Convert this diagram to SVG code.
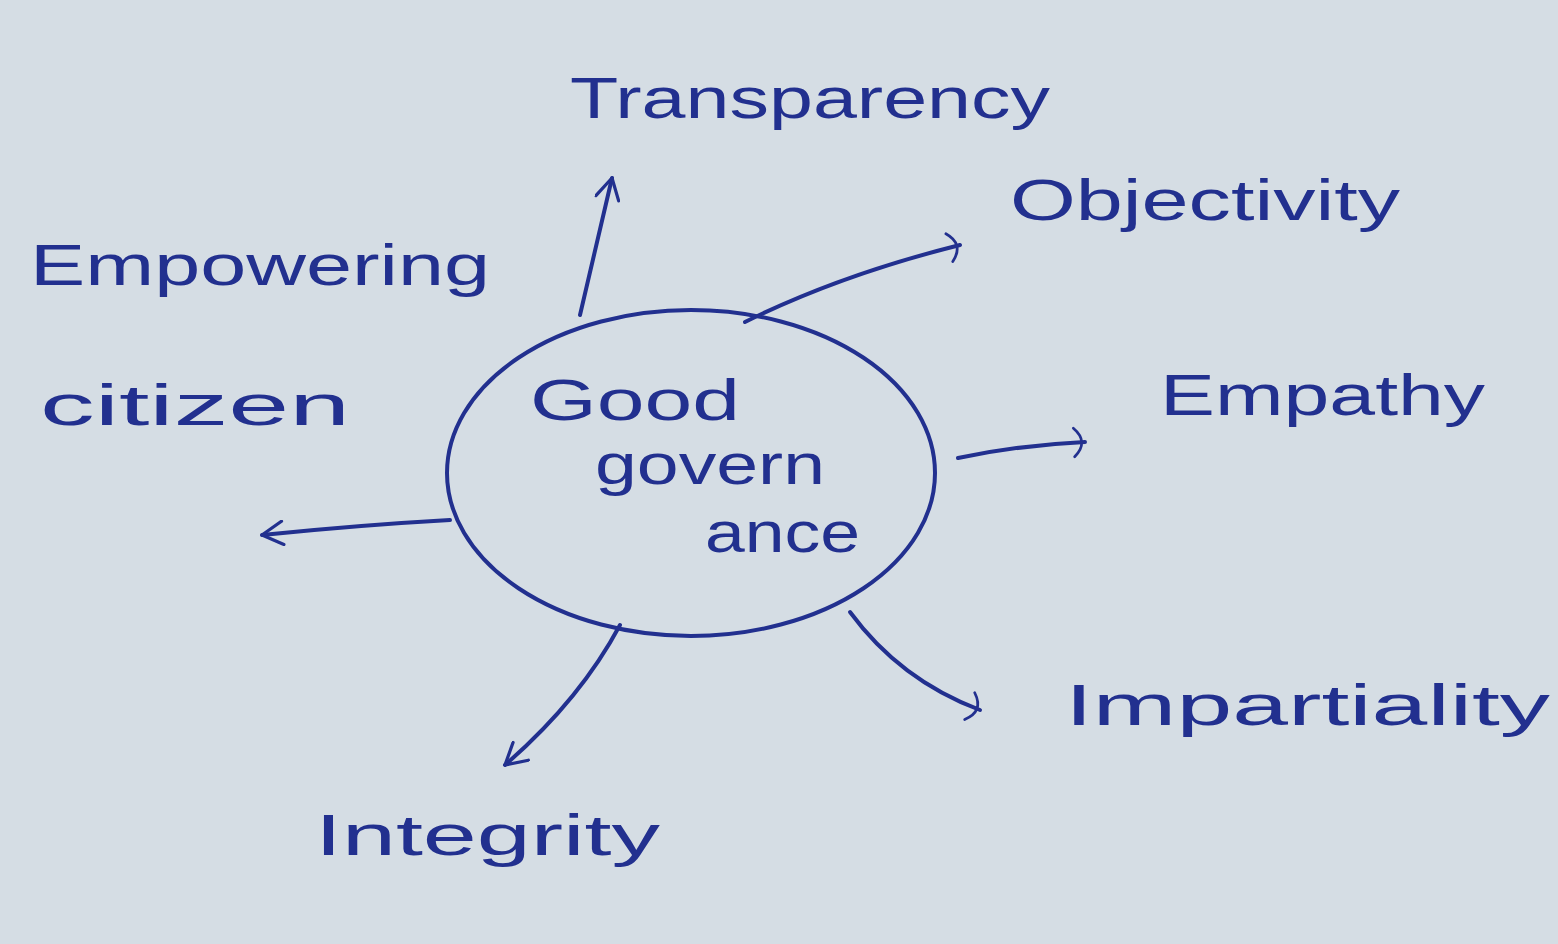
<svg xmlns="http://www.w3.org/2000/svg" width="1558" height="944" viewBox="0 0 1558 944">
<defs>
<marker id="arr" viewBox="0 0 20 20" refX="18" refY="10" markerWidth="26" markerHeight="26" markerUnits="userSpaceOnUse" orient="auto">
<path d="M2,1 L18,10 L2,19" fill="none" stroke="#22308f" stroke-width="2.5" stroke-linecap="round" stroke-linejoin="round"/>
</marker>
<marker id="cur" viewBox="0 0 20 30" refX="14" refY="15" markerWidth="22" markerHeight="34" markerUnits="userSpaceOnUse" orient="auto">
<path d="M4,2 Q18,15 4,28" fill="none" stroke="#22308f" stroke-width="2.5" stroke-linecap="round"/>
</marker>
</defs>
<style>
.ink{fill:none;stroke:#22308f;stroke-width:4;stroke-linecap:round;stroke-linejoin:round}
.lbl{font-family:"Liberation Sans","Open Sans",sans-serif;fill:#22308f;font-size:58px}
</style>
<rect width="1558" height="944" fill="#d5dde4"/>
<g id="connectors">
<path class="ink" d="M580,315 L612,178" marker-end="url(#arr)"/>
<path class="ink" d="M745,322 Q840,275 960,245" marker-end="url(#cur)"/>
<path class="ink" d="M958,458 Q1020,445 1085,442" marker-end="url(#cur)"/>
<path class="ink" d="M850,612 Q900,680 980,710" marker-end="url(#cur)"/>
<path class="ink" d="M620,625 Q580,700 505,765" marker-end="url(#arr)"/>
<path class="ink" d="M450,520 Q360,525 262,535" marker-end="url(#arr)"/>
</g>
<g id="center">
<ellipse class="ink" cx="691" cy="473" rx="244" ry="163"/>
<text class="lbl" x="530" y="420" textLength="210" lengthAdjust="spacingAndGlyphs">Good</text>
<text class="lbl" x="595" y="484" textLength="230" lengthAdjust="spacingAndGlyphs">govern</text>
<text class="lbl" x="705" y="552" font-size="42" textLength="155" lengthAdjust="spacingAndGlyphs">ance</text>
</g>
<g id="transparency"><text class="lbl" x="570" y="118" textLength="480" lengthAdjust="spacingAndGlyphs">Transparency</text></g>
<g id="objectivity"><text class="lbl" x="1010" y="220" textLength="390" lengthAdjust="spacingAndGlyphs">Objectivity</text></g>
<g id="empowering"><text class="lbl" x="30" y="285" textLength="460" lengthAdjust="spacingAndGlyphs">Empowering</text>
<text class="lbl" x="40" y="425" textLength="310" lengthAdjust="spacingAndGlyphs">citizen</text></g>
<g id="empathy"><text class="lbl" x="1160" y="415" textLength="325" lengthAdjust="spacingAndGlyphs">Empathy</text></g>
<g id="impartiality"><text class="lbl" x="1065" y="725" textLength="485" lengthAdjust="spacingAndGlyphs">Impartiality</text></g>
<g id="integrity"><text class="lbl" x="315" y="855" textLength="345" lengthAdjust="spacingAndGlyphs">Integrity</text></g>
</svg>
